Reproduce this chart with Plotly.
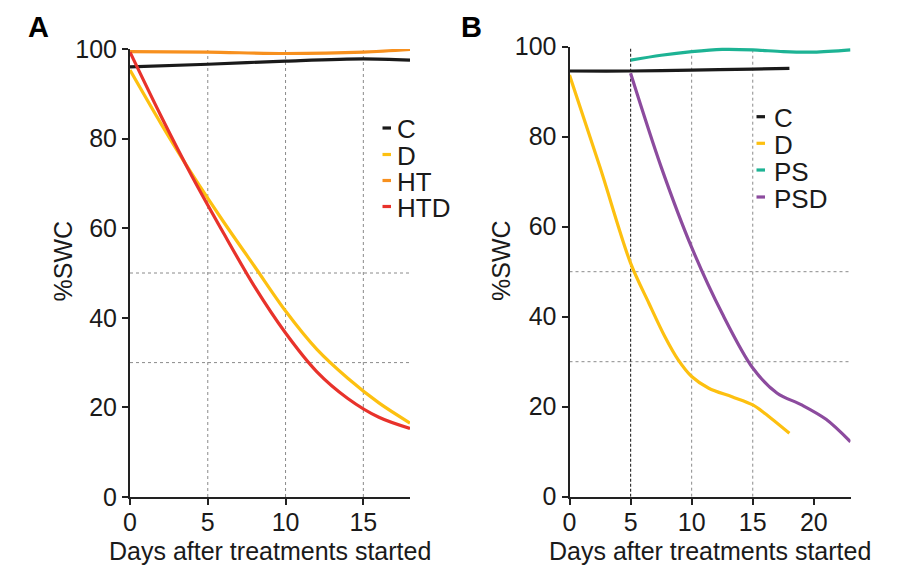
import plotly.graph_objects as go

# ---------------- data ----------------
# Panel A
a_c_days = [0, 5, 10, 15, 18]
a_c_vals = [96.0, 96.6, 97.3, 97.8, 97.5]
a_ht_days = [0, 5, 10, 15, 18]
a_ht_vals = [99.4, 99.3, 99.0, 99.3, 99.9]
a_d_days = [0, 2, 4, 6, 8, 10, 12, 14, 16, 18]
a_d_vals = [95.3, 83.3, 72.0, 61.5, 51.5, 41.5, 33.0, 26.5, 21.0, 16.5]
a_htd_days = [0, 2, 4, 6, 8, 10, 12, 14, 16, 18]
a_htd_vals = [99.3, 85.0, 71.5, 59.0, 47.0, 36.6, 28.0, 22.0, 17.8, 15.3]

# Panel B
b_c_days = [0, 5, 10, 15, 18]
b_c_vals = [94.6, 94.6, 94.8, 95.0, 95.2]
b_ps_days = [5, 7.5, 10, 12.5, 15, 17.5, 20, 23]
b_ps_vals = [97.0, 98.1, 98.9, 99.4, 99.3, 98.9, 98.8, 99.3]
b_d_days = [0, 2.5, 5, 6.5, 7.8, 8.9, 10, 11.4, 13.3, 15, 16, 18]
b_d_vals = [93.7, 73.2, 51.9, 43.0, 35.6, 30.4, 26.7, 24.1, 22.2, 20.4, 18.5, 14.1]
b_psd_days = [5, 7.5, 10, 12.5, 15, 17, 19, 21, 23]
b_psd_vals = [94.1, 73.3, 55.4, 40.7, 28.6, 23.0, 20.4, 17.2, 12.2]

a_labels = ["C", "D", "HT", "HTD"]
b_labels = ["C", "D", "PS", "PSD"]
y_ticks = [0, 20, 40, 60, 80, 100]
a_x_ticks = [0, 5, 10, 15]
b_x_ticks = [0, 5, 10, 15, 20]
a_xmax = 18
b_xmax = 23
swc_thresholds = [50, 30]
a_vgrid = [5, 10, 15]
b_vgrid = [10, 15]
b_stress_start = 5

# ---------------- style ----------------
COL = {"C": "#1a1a1a", "D": "#FDC010", "HT": "#F7901E", "HTD": "#E8322B",
       "PS": "#1DB394", "PSD": "#8C4B9E"}
FONT = "Liberation Sans, Arial, sans-serif"
W, H = 901, 567

def px(x):
    return x / W

def py(y):
    return 1 - y / H

fig = go.Figure()

def add_line(x, y, name, xa, ya):
    fig.add_trace(go.Scatter(x=x, y=y, mode="lines", name=name, showlegend=False,
                             line=dict(color=COL[name], width=3.2, shape="spline", smoothing=0.9),
                             xaxis=xa, yaxis=ya, hoverinfo="skip"))

add_line(a_ht_days, a_ht_vals, "HT", "x", "y")
add_line(a_c_days, a_c_vals, "C", "x", "y")
add_line(a_d_days, a_d_vals, "D", "x", "y")
add_line(a_htd_days, a_htd_vals, "HTD", "x", "y")

add_line(b_ps_days, b_ps_vals, "PS", "x2", "y2")
add_line(b_c_days, b_c_vals, "C", "x2", "y2")
add_line(b_d_days, b_d_vals, "D", "x2", "y2")
add_line(b_psd_days, b_psd_vals, "PSD", "x2", "y2")

axis_common = dict(showline=True, linewidth=2, linecolor="#222", ticks="outside",
                   ticklen=6, tickwidth=2, tickcolor="#222", showgrid=False,
                   zeroline=False, fixedrange=True, automargin=False,
                   tickfont=dict(family=FONT, size=25, color="#1a1a1a"))

fig.update_layout(
    width=W, height=H, margin=dict(l=0, r=0, t=0, b=0, autoexpand=False),
    paper_bgcolor="white", plot_bgcolor="white", showlegend=False,
    xaxis=dict(domain=[px(130), px(410)], range=[0, a_xmax], tickvals=a_x_ticks,
               anchor="y", ticklabelstandoff=-4, **axis_common),
    yaxis=dict(domain=[py(497), py(49)], range=[0, 100], tickvals=y_ticks,
               anchor="x", **axis_common),
    xaxis2=dict(domain=[px(569.5), px(850.5)], range=[0, b_xmax], tickvals=b_x_ticks,
                anchor="y2", ticklabelstandoff=-4, **axis_common),
    yaxis2=dict(domain=[py(496.7), py(46.7)], range=[0, 100], tickvals=y_ticks,
                anchor="x2", **axis_common),
)

shapes = []
grid = dict(color="#8a8a8a", width=1, dash="dot")
for xv in a_vgrid:
    shapes.append(dict(type="line", xref="x", yref="y", x0=xv, x1=xv, y0=0, y1=100,
                       line=grid, layer="below"))
for yv in swc_thresholds:
    shapes.append(dict(type="line", xref="x", yref="y", x0=0, x1=a_xmax, y0=yv, y1=yv,
                       line=grid, layer="below"))
for xv in b_vgrid:
    shapes.append(dict(type="line", xref="x2", yref="y2", x0=xv, x1=xv, y0=0, y1=100,
                       line=grid, layer="below"))
for yv in swc_thresholds:
    shapes.append(dict(type="line", xref="x2", yref="y2", x0=0, x1=b_xmax, y0=yv, y1=yv,
                       line=grid, layer="below"))
shapes.append(dict(type="line", xref="x2", yref="y2", x0=b_stress_start, x1=b_stress_start,
                   y0=0, y1=100, line=dict(color="#333", width=1.2, dash="3px,2px"),
                   layer="below"))

annotations = []
# custom legends
def legend(labels, x_dash0, x_text, ys):
    for lab, yy in zip(labels, ys):
        shapes.append(dict(type="line", xref="paper", yref="paper",
                           x0=px(x_dash0), x1=px(x_dash0 + 8.5), y0=py(yy), y1=py(yy),
                           line=dict(color=COL[lab], width=3.2)))
        annotations.append(dict(xref="paper", yref="paper", x=px(x_text), y=py(yy + 1),
                                text=lab, showarrow=False, xanchor="left", yanchor="middle",
                                height=25, valign="middle",
                                font=dict(family=FONT, size=26, color="#1a1a1a")))

legend(a_labels, 382.5, 395, [128, 154.5, 180.5, 206.5])
legend(b_labels, 756.5, 772, [116.7, 143.3, 170, 197])

# axis titles
for xc in [270, 710]:
    annotations.append(dict(xref="paper", yref="paper", x=px(xc), y=py(551),
                            text="Days after treatments started", showarrow=False,
                            xanchor="center", yanchor="middle",
                            font=dict(family=FONT, size=25, color="#1a1a1a")))
for xc in [62.5, 501]:
    annotations.append(dict(xref="paper", yref="paper", x=px(xc), y=py(261),
                            text="%SWC", showarrow=False, textangle=-90,
                            xanchor="center", yanchor="middle",
                            font=dict(family=FONT, size=25, color="#1a1a1a")))
# panel letters
for lab, xc in [("A", 38.5), ("B", 471.5)]:
    annotations.append(dict(xref="paper", yref="paper", x=px(xc), y=py(27),
                            text="<b>%s</b>" % lab, showarrow=False,
                            xanchor="center", yanchor="middle",
                            font=dict(family=FONT, size=29, color="#000")))

fig.update_layout(shapes=shapes, annotations=annotations)
fig.write_html("out.html")
